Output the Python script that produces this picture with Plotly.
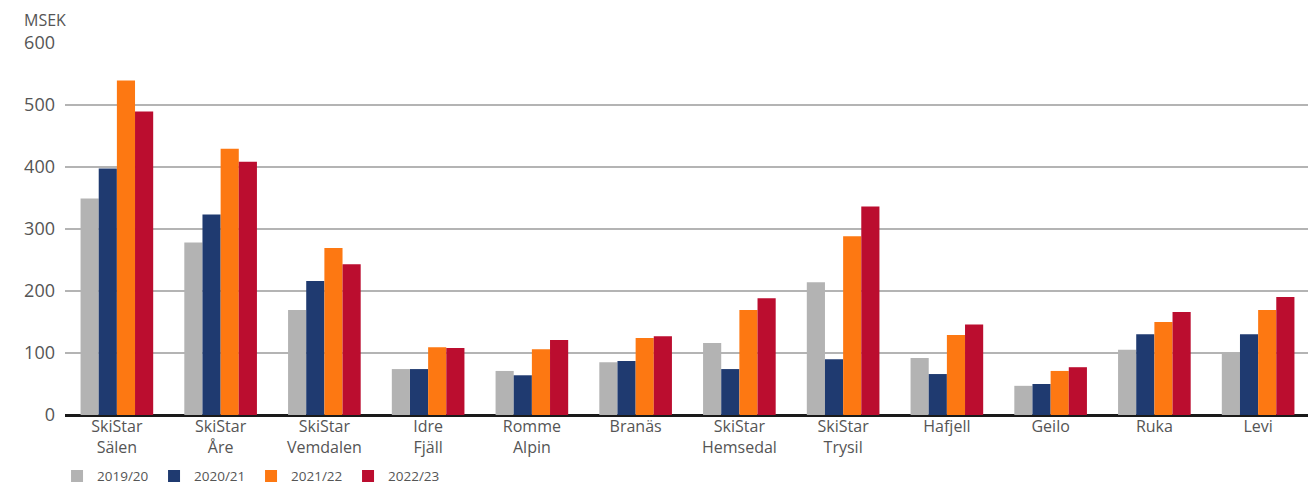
import plotly.graph_objects as go

categories = ["SkiStar<br>Sälen", "SkiStar<br>Åre", "SkiStar<br>Vemdalen", "Idre<br>Fjäll", "Romme<br>Alpin",
              "Branäs", "SkiStar<br>Hemsedal", "SkiStar<br>Trysil", "Hafjell", "Geilo", "Ruka", "Levi"]
s2019 = [349, 278, 169, 74, 71, 85, 116, 214, 92, 47, 105, 100]
s2020 = [397, 323, 216, 74, 64, 87, 74, 90, 66, 50, 130, 130]
s2021 = [539, 429, 269, 109, 106, 124, 169, 288, 129, 71, 150, 169]
s2022 = [489, 408, 243, 108, 121, 127, 188, 336, 146, 77, 166, 190]
series_names = ["2019/20", "2020/21", "2021/22", "2022/23"]
colors = ["#b3b3b3", "#1f3a70", "#fd7812", "#bb0d2f"]
yticks = [0, 100, 200, 300, 400, 500, 600]

fig = go.Figure()
for name, vals, col in zip(series_names, [s2019, s2020, s2021, s2022], colors):
    fig.add_trace(go.Bar(x=categories, y=vals, name=name, marker_color=col, marker_line_width=0))

font_family = "Open Sans, Lato, sans-serif"
fig.update_layout(
    width=1316, height=483,
    margin=dict(l=57, r=14, t=34, b=76, autoexpand=False),
    paper_bgcolor="white", plot_bgcolor="white",
    barmode="group", bargap=0.3, bargroupgap=0,
    font=dict(family=font_family, color="#555555", size=16),
    showlegend=True,
    legend=dict(orientation="h", x=-0.0064, xanchor="left", y=-0.164, yanchor="middle",
                font=dict(size=13.5, color="#555555"), itemwidth=30, tracegroupgap=0,
                entrywidth=52, entrywidthmode="pixels"),
    xaxis=dict(showgrid=False, tickfont=dict(size=16, color="#555555"), ticks="",
               showline=False, zeroline=False, automargin=False),
    yaxis=dict(range=[0, 601], tickvals=yticks, showgrid=True, gridcolor="#b4b4b4", gridwidth=1.5,
               zeroline=True, zerolinecolor="#1a1a1a", zerolinewidth=2.5,
               tickfont=dict(size=18, color="#555555"), ticklabelstandoff=9, showline=False,
               automargin=False),
    annotations=[dict(text="MSEK", xref="paper", yref="paper", x=-0.0345, y=1.06,
                      xanchor="left", yanchor="middle", showarrow=False,
                      font=dict(size=16, color="#555555"))],
)

fig.write_html("out.html")
